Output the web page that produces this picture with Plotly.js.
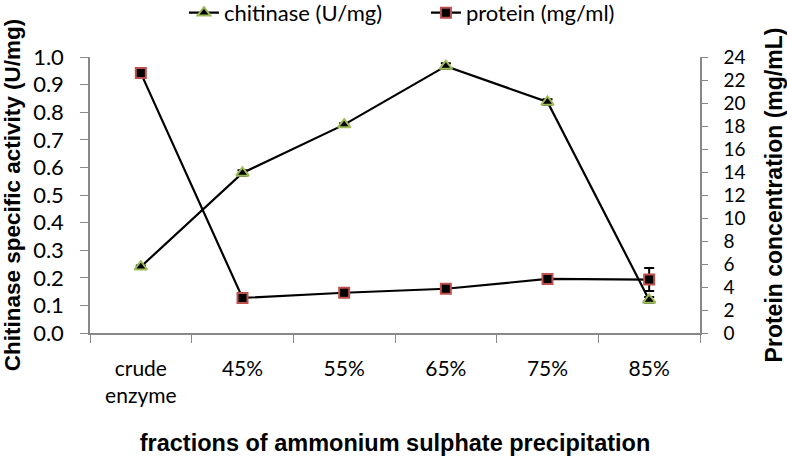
<!DOCTYPE html>
<html><head><meta charset="utf-8">
<script src="https://cdn.plot.ly/plotly-3.0.1.min.js"></script>
<style>body{margin:0;padding:0;background:#fff}#chart{width:787px;height:457px}</style>
</head><body><div id="chart"></div>
<script>
const categories = ["crude<br>enzyme", "45%", "55%", "65%", "75%", "85%"];
const chitinase = [0.24, 0.58, 0.755, 0.967, 0.837, 0.12];
const chitinaseErr = [0.005, 0.01, 0.005, 0.01, 0.01, 0.01];
const protein = [22.6, 3.05, 3.5, 3.85, 4.7, 4.65];
const proteinErr = [0.1, 0.1, 0.1, 0.1, 0.1, 1.0];
const yTicks = [0,0.1,0.2,0.3,0.4,0.5,0.6,0.7,0.8,0.9,1.0];
const y2Ticks = [0,2,4,6,8,10,12,14,16,18,20,22,24];

const font = "Lato, 'Open Sans', sans-serif";
const titleFont = "'Liberation Sans', Arial, sans-serif";
const axisCol = "#888";
const traces = [
  {x: categories, y: chitinase, name: "chitinase (U/mg)", type: "scatter", mode: "lines+markers",
   line: {color: "#000", width: 2.2},
   marker: {symbol: "triangle-up", size: 11, color: "#000", line: {color: "#9BBB59", width: 2}},
   error_y: {type: "data", array: chitinaseErr, color: "#000", thickness: 2, width: 5}},
  {x: categories, y: protein, name: "protein (mg/ml)", type: "scatter", mode: "lines+markers", yaxis: "y2",
   line: {color: "#000", width: 2.2},
   marker: {symbol: "square", size: 10, color: "#000", line: {color: "#C0504D", width: 2}},
   error_y: {type: "data", array: proteinErr, color: "#000", thickness: 2, width: 5}}
];
const layout = {
  width: 787, height: 457,
  margin: {l: 90, r: 87, t: 57, b: 124, autoexpand: false},
  paper_bgcolor: "#fff", plot_bgcolor: "#fff",
  font: {family: font, size: 21, color: "#000"},
  showlegend: true,
  legend: {orientation: "h", x: 0.154, xanchor: "left", y: 1.16, yanchor: "middle", font: {size: 22},
    traceorder: "normal", entrywidth: 197, entrywidthmode: "pixels"},
  xaxis: {type: "category", tickson: "boundaries", ticks: "outside", ticklen: 8, tickcolor: axisCol,
    showline: true, linecolor: axisCol, linewidth: 1.5, showgrid: false, zeroline: false,
    tickfont: {size: 21}, range: [-0.5, 5.5], ticklabelstandoff: 16,
    title: {text: "<b>fractions of ammonium sulphate precipitation</b>", font: {family: titleFont, size: 23.5}, standoff: 28}},
  yaxis: {range: [0, 1], tickvals: yTicks, tickformat: ".1f", ticks: "outside", ticklen: 8, tickcolor: axisCol,
    showline: true, linecolor: axisCol, linewidth: 1.5, showgrid: false, zeroline: false, tickfont: {size: 22},
    ticklabelstandoff: 12,
    title: {text: "<b>Chitinase specific activity (U/mg)</b>", font: {family: titleFont, size: 22.5}, standoff: 10}},
  yaxis2: {overlaying: "y", side: "right", range: [0, 24], tickvals: y2Ticks, ticks: "outside", ticklen: 6, tickcolor: axisCol,
    showline: true, linecolor: axisCol, linewidth: 1.5, showgrid: false, zeroline: false, tickfont: {size: 19},
    ticklabelstandoff: 12,
    title: {text: "<b>Protein concentration (mg/mL)</b>", font: {family: titleFont, size: 23}, standoff: 22}}
};
Plotly.newPlot("chart", traces, layout, {displayModeBar: false});
</script></body></html>
